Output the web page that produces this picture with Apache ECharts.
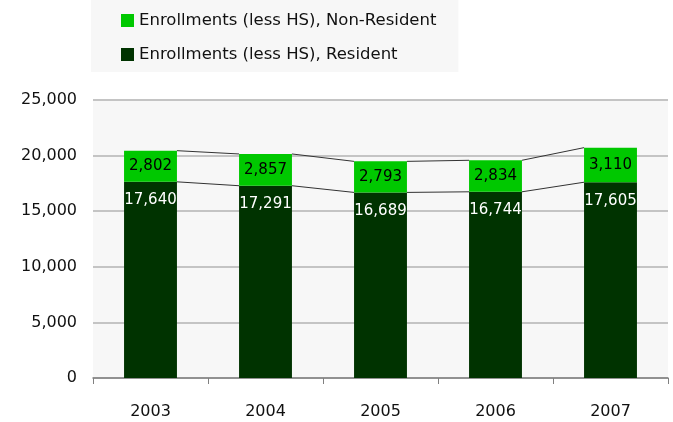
<!DOCTYPE html>
<html>
<head>
<meta charset="utf-8">
<script src="https://cdn.jsdelivr.net/npm/echarts@6/dist/echarts.min.js"></script>
<style>
  html, body { margin: 0; padding: 0; background: #fff; }
  #chart { width: 673px; height: 422px; }
</style>
</head>
<body>
<div id="chart"></div>
<script>
const years = ['2003', '2004', '2005', '2006', '2007']
const resident = [17640, 17291, 16689, 16744, 17605]
const nonResident = [2802, 2857, 2793, 2834, 3110]
const yTicks = [0, 5000, 10000, 15000, 20000, 25000]

const FONT = 'DejaVu Sans'
const BAR_RATIO = 0.46
const totals = resident.map((v, i) => v + nonResident[i])
const fmt = v => v.toLocaleString('en-US')

const chart = echarts.init(document.getElementById('chart'))

// Excel-style series lines between stacked bars
function seriesLines(params, api) {
  const i = api.value(0)
  if (i >= years.length - 1) return null
  const half = api.size([1, 0])[0] * BAR_RATIO / 2
  const lines = [[resident[i], resident[i + 1]], [totals[i], totals[i + 1]]]
  return {
    type: 'group',
    children: lines.map(([a, b]) => {
      const p1 = api.coord([i, a])
      const p2 = api.coord([i + 1, b])
      return {
        type: 'line',
        shape: { x1: p1[0] + half, y1: p1[1], x2: p2[0] - half, y2: p2[1] },
        style: { stroke: '#333', lineWidth: 1 }
      }
    })
  }
}

chart.setOption({
  animation: false,
  textStyle: { fontFamily: FONT },
  legend: {
    left: 91,
    top: 0,
    orient: 'vertical',
    backgroundColor: '#f7f7f7',
    padding: [12, 22, 9, 30],
    itemWidth: 13,
    itemHeight: 13,
    itemGap: 17,
    icon: 'rect',
    textStyle: { fontFamily: FONT, fontSize: 16.5, lineHeight: 16, color: '#111' },
    data: ['Enrollments (less HS), Non-Resident', 'Enrollments (less HS), Resident']
  },
  grid: { left: 93, right: 5, top: 100, bottom: 44, show: true, backgroundColor: '#f7f7f7', borderWidth: 0 },
  xAxis: {
    type: 'category',
    data: years,
    axisLine: { lineStyle: { color: '#808080', width: 1.5 } },
    axisTick: { show: true, length: 6, lineStyle: { color: '#808080' } },
    axisLabel: { fontFamily: FONT, fontSize: 16, color: '#111', margin: 26 }
  },
  yAxis: {
    type: 'value',
    min: 0,
    max: 25000,
    interval: 5000,
    axisLine: { show: false },
    axisTick: { show: false },
    splitLine: { lineStyle: { color: '#c4c4c4', width: 2 } },
    axisLabel: {
      fontFamily: FONT, fontSize: 16, color: '#111', margin: 16,
      formatter: v => yTicks.includes(v) ? fmt(v) : ''
    }
  },
  series: [
    {
      name: 'Enrollments (less HS), Resident',
      type: 'bar',
      stack: 'e',
      barWidth: (BAR_RATIO * 100) + '%',
      data: resident,
      itemStyle: { color: '#003300' },
      label: {
        show: true, position: 'insideTop', distance: 11,
        color: '#fff', fontFamily: FONT, fontSize: 15,
        formatter: p => fmt(p.value)
      }
    },
    {
      name: 'Enrollments (less HS), Non-Resident',
      type: 'bar',
      stack: 'e',
      data: nonResident,
      itemStyle: { color: '#00c800' },
      label: {
        show: true, position: 'inside',
        color: '#000', fontFamily: FONT, fontSize: 15,
        formatter: p => fmt(p.value)
      }
    },
    {
      type: 'custom',
      renderItem: seriesLines,
      data: years.map((y, i) => [i]),
      silent: true,
      z: 1
    }
  ]
})
</script>
</body>
</html>
